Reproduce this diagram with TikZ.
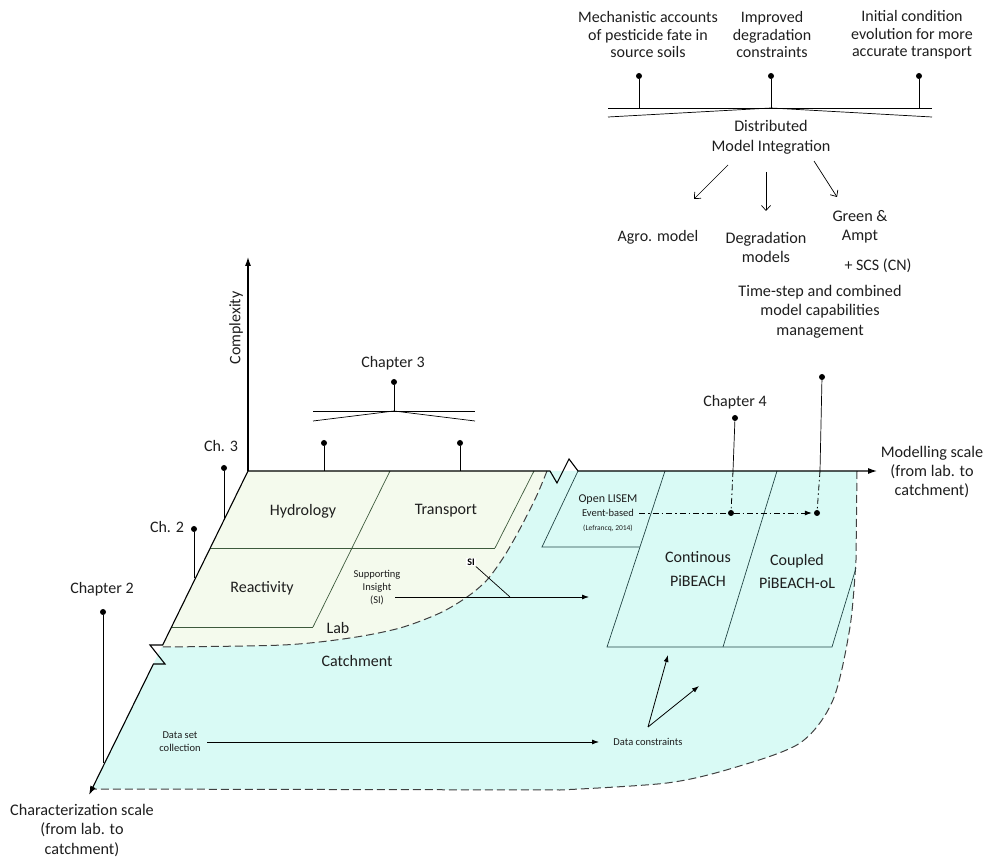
\documentclass[tikz,border=0pt]{standalone}
\usepackage{fontspec}
\setmainfont{Carlito}
\usetikzlibrary{arrows.meta}
\definecolor{labfill}{RGB}{244,250,237}
\definecolor{catfill}{RGB}{217,250,245}
\definecolor{labline}{RGB}{60,90,60}
\definecolor{catline}{RGB}{35,70,70}
\definecolor{txt}{RGB}{30,30,30}
\begin{document}
\begin{tikzpicture}[x=1pt,y=-1pt,
 lbl/.style={font=\fontsize{16}{17.5}\selectfont, align=center, text=txt, inner sep=0pt},
 mid/.style={font=\fontsize{16.2}{19.5}\selectfont, align=center, text=txt, inner sep=0pt},
 big/.style={font=\fontsize{16}{24}\selectfont, align=center, text=txt, inner sep=0pt},
 small/.style={font=\fontsize{10.5}{13}\selectfont, align=center, text=txt, inner sep=0pt},
 pinline/.style={line width=0.7pt},
 dotc/.style={circle, fill=black, inner sep=0pt, minimum size=6pt},
 axisline/.style={line width=1.1pt, -{Latex[length=9pt,width=6pt]}},
 bound/.style={dash pattern=on 8pt off 4pt, line width=1pt, draw=black!75},
 gridlab/.style={line width=0.7pt, draw=labline},
 gridcat/.style={line width=0.7pt, draw=catline},
 openarrow/.style={line width=0.7pt, -{Straight Barb[length=5pt,width=9pt]}},
 fillarrow/.style={line width=0.8pt, -{Latex[length=7pt,width=5pt]}},
 dashdot/.style={line width=0.8pt, dash pattern=on 6pt off 3pt on 1.5pt off 3pt},
]
\useasboundingbox (0,0) rectangle (989,858);

% ---------- regions ----------
\coordinate (O) at (248,471);
\fill[catfill] (O) -- (857,471) -- (856,560) -- plot[smooth] coordinates {(856,560) (850,627) (833,700) (800,743) (733,768) (667,783) (560,790)} -- (92,789) -- cycle;
\fill[labfill] (O) -- (547,471) -- plot[smooth] coordinates {(547,471) (537,495) (522,525) (505,555) (487,580) (467,597) (440,613) (400,628) (350,638) (283,645) (162,647)} -- cycle;
\draw[bound] (547,471) -- plot[smooth] coordinates {(547,471) (537,495) (522,525) (505,555) (487,580) (467,597) (440,613) (400,628) (350,638) (283,645) (162,647)};
\draw[bound] (857,471) -- (856,560) -- plot[smooth] coordinates {(856,560) (850,627) (833,700) (800,743) (733,768) (667,783) (560,790)} -- (92,789);

% ---------- lab grid ----------
\draw[gridlab] (210.3,548) -- (495,548);
\draw[gridlab] (534,471) -- (495,548);
\draw[gridlab] (390,471) -- (313,627);
\draw[gridlab] (171.6,627) -- (313,627);

% ---------- catchment grid ----------
\draw[gridcat] (578,471) -- (542,547) -- (640,547);
\draw[gridcat] (665,471) -- (607,647) -- (832,647) -- (856,568);
\draw[gridcat] (777,471) -- (723,647);

% ---------- axes ----------
\coordinate (Ctop) at (248,257);
\coordinate (Mend) at (877,471);
\coordinate (Cend) at (89,795);
\draw[axisline] (O) -- (Ctop);
\draw[axisline] (O) -- (550,471) -- (557,483) -- (569,459) -- (578,471) -- (Mend);
\draw[axisline] (O) -- (162.7,645) -- (150,645) -- (165,664) -- (153.4,664) -- (Cend);

\node[lbl, rotate=90] (complexity) at (236,328) {Complexity};
\node[mid] (modelling) at (932,472) {Modelling scale\\(from lab. to\\catchment)};
\node[mid] (charact) at (82,830) {Characterization scale\\(from lab. to\\catchment)};

% ---------- top part ----------
\node[lbl] (mech) at (648,35) {Mechanistic accounts\\of pesticide fate in\\source soils};
\node[lbl] (impr) at (772,35) {Improved\\degradation\\constraints};
\node[lbl] (init) at (912,35) {Initial condition\\evolution for more\\accurate transport};
\node[dotc] (d1) at (639,76) {};
\node[dotc] (d2) at (771,76) {};
\node[dotc] (d3) at (919,76) {};
\coordinate (b1) at (639,108);
\coordinate (b2) at (771,108);
\coordinate (b3) at (919,108);
\coordinate (bl) at (608,108);
\coordinate (br) at (932,108);
\coordinate (vl) at (608,117);
\coordinate (vr) at (932,117);
\draw[pinline] (d1) -- (b1);
\draw[pinline] (d2) -- (b2);
\draw[pinline] (d3) -- (b3);
\draw[pinline] (bl) -- (br);
\draw[pinline] (vl) -- (b2) -- (vr);

\node[mid] (dmi) at (771,137.5) {Distributed\\Model Integration};
\coordinate (a1s) at (728,165); \coordinate (a1e) at (694,199);
\coordinate (a2s) at (766,172); \coordinate (a2e) at (766,211);
\coordinate (a3s) at (814,161); \coordinate (a3e) at (837,197);
\draw[openarrow] (a1s) -- (a1e);
\draw[openarrow] (a2s) -- (a2e);
\draw[openarrow] (a3s) -- (a3e);
\node[lbl] (agro) at (658,237) {Agro. model};
\node[mid] (degr) at (766,247.5) {Degradation\\models};
\node[mid] (green) at (860,227) {Green \&\\Ampt};
\node[lbl] (scs) at (878,266) {+ SCS (CN)};
\node[mid] (time) at (820,311.5) {Time-step and combined\\model capabilities\\management};

% ---------- chapter pins ----------
\node[lbl] (chap4) at (735,402) {Chapter 4};
\node[dotc] (d4) at (735,418) {};
\node[dotc] (d5) at (822,377) {};
\coordinate (p4) at (733,471);
\coordinate (p5) at (820,471);
\draw[pinline] (d4) -- (p4);
\draw[pinline] (d5) -- (p5);

\node[lbl] (chap3) at (393,363) {Chapter 3};
\node[dotc] (d6) at (394,382) {};
\coordinate (c3m) at (394,411);
\coordinate (c3l) at (313,411);
\coordinate (c3r) at (475,411);
\coordinate (c3vl) at (313,421);
\coordinate (c3vr) at (475,421);
\draw[pinline] (d6) -- (c3m);
\draw[pinline] (c3l) -- (c3r);
\draw[pinline] (c3vl) -- (c3m) -- (c3vr);
\node[dotc] (d7) at (324,443) {};
\node[dotc] (d8) at (460,443) {};
\coordinate (p7) at (324,471);
\coordinate (p8) at (460,471);
\draw[pinline] (d7) -- (p7);
\draw[pinline] (d8) -- (p8);

\node[lbl] (ch3) at (221,446) {Ch. 3};
\node[dotc] (d9) at (224,468) {};
\coordinate (p9) at (224,520);
\draw[pinline] (d9) -- (p9);

\node[lbl] (ch2) at (167,527) {Ch. 2};
\node[dotc] (d10) at (194,529) {};
\coordinate (p10) at (194,578);
\draw[pinline] (d10) -- (p10);

\node[lbl] (chap2) at (102,589) {Chapter 2};
\node[dotc] (d11) at (103,612) {};
\coordinate (p11) at (103,763);
\draw[pinline] (d11) -- (p11);

% ---------- lab texts ----------
\node[big] (hydro) at (303,511) {Hydrology};
\node[big] (transp) at (446,511) {Transport};
\node[big] (react) at (262,588) {Reactivity};
\node[small] (supp) at (377,588) {Supporting\\Insight\\(SI)};
\node[big] (lab) at (338,628) {Lab};
\node[big] (catch) at (357,661) {Catchment};
\node[font=\fontsize{10}{12}\selectfont\bfseries, fill=white, inner sep=1pt] (si) at (471,562) {SI};
\coordinate (sis) at (395,597);
\coordinate (sie) at (589,597);
\coordinate (sij) at (510,597);
\draw[fillarrow] (sis) -- (sie);
\draw[pinline] (si.south east) -- (sij);

% ---------- catchment texts ----------
\node[font=\fontsize{12}{14}\selectfont, text=txt, inner sep=0pt] (lisem) at (608,500) {Open LISEM};
\node[font=\fontsize{10.5}{12}\selectfont, text=txt, inner sep=1pt] (event) at (608,513) {Event-based};
\node[font=\fontsize{7.5}{9}\selectfont, text=txt, inner sep=0pt] (lefr) at (608,528) {(Lefrancq, 2014)};
\node[big] (cont) at (698,569) {Continous\\PiBEACH};
\node[big] (coup) at (797,571.5) {Coupled\\PiBEACH-oL};
\node[dotc] (e1) at (731,513) {};
\node[dotc] (e2) at (817,513) {};
\draw[dashdot] (p4) -- (e1);
\draw[dashdot] (p5) -- (e2);
\draw[dashdot, -{Latex[length=7pt,width=5pt]}, shorten >=2pt] (event.east) ++(4,0) -- (e2.west);

% ---------- data ----------
\node[small] (dataset) at (180,742) {Data set\\collection};
\node[small] (dcons) at (648,742) {Data constraints};
\coordinate (ds) at (207,742);
\coordinate (de) at (599,742);
\draw[fillarrow] (ds) -- (de);
\coordinate (dc) at (648,727);
\coordinate (dc1) at (668,655);
\coordinate (dc2) at (699,686);
\draw[fillarrow] (dc) -- (dc1);
\draw[fillarrow] (dc) -- (dc2);
\end{tikzpicture}
\end{document}
